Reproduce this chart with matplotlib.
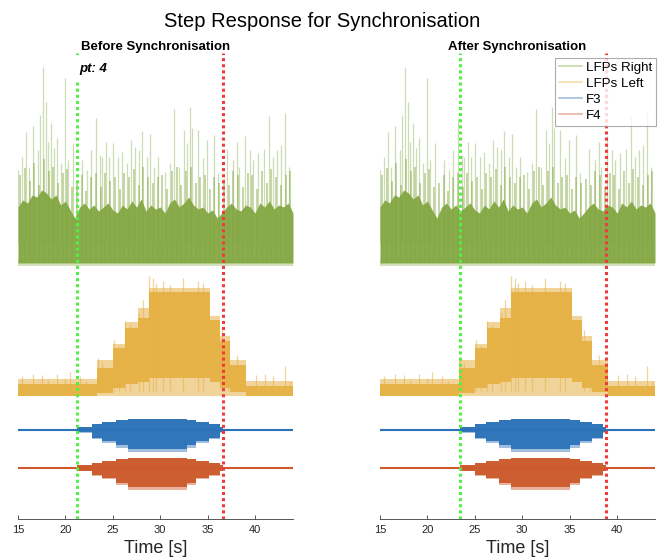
import numpy as np
import matplotlib.pyplot as plt

plt.rcParams['font.family'] = ['Liberation Sans', 'DejaVu Sans']

# ---- data (amplitudes are relative to each trace's baseline) ----
# LFPs Right: dense core top, sampled every 0.5 s from 15 to 44 s
green_core = [56, 63, 60, 68, 66, 73, 70, 64, 68, 58, 62, 53, 45, 56, 60, 54, 58, 52, 56, 60,
              53, 50, 58, 54, 62, 56, 64, 52, 58, 54, 56, 50, 60, 64, 56, 60, 66, 58, 54, 56,
              50, 53, 45, 50, 56, 60, 54, 52, 58, 56, 50, 60, 56, 62, 54, 58, 56, 60, 50]
# LFPs Right: lighter texture above the core, same sampling
green_haze = [88, 95, 82, 100, 78, 104, 92, 96, 80, 90, 94, 76, 80, 88, 72, 86, 90, 76, 90, 82,
              86, 74, 90, 86, 94, 78, 96, 86, 80, 86, 88, 74, 92, 96, 78, 92, 96, 80, 86, 88,
              74, 86, 80, 84, 78, 92, 88, 76, 90, 88, 74, 92, 80, 94, 86, 78, 88, 92, 74]
# LFPs Right: individual spikes (time [s], height)
green_spike_t = [15.03, 15.4, 15.84, 16.16, 16.6, 17.08, 17.32, 17.67, 17.92, 18.2, 18.48, 18.83,
                 19.15, 19.54, 19.96, 20.24, 20.83, 21.72, 22.25, 22.7, 23.2, 23.65, 23.9, 24.25,
                 24.63, 25.05, 25.5, 26.0, 26.47, 26.92, 27.34, 27.76, 28.1, 28.58, 28.92, 29.38,
                 29.8, 30.5, 31.03, 31.5, 32.0, 32.55, 32.86, 33.14, 33.38, 34.0, 34.48, 34.9,
                 35.7, 36.13, 37.08, 37.65, 38.07, 38.35, 38.98, 39.47, 39.83, 40.28, 40.98,
                 41.48, 41.87, 42.29, 42.71, 43.16, 43.62, 43.97]
green_spike_h = [93, 106, 131, 96, 137, 113, 148, 196, 161, 121, 140, 115,
                 125, 100, 185, 103, 120, 103, 93, 113, 145, 108, 106, 121,
                 106, 120, 106, 111, 100, 123, 116, 113, 132, 106, 129, 96,
                 106, 91, 100, 154, 96, 133, 120, 156, 135, 133, 105, 123,
                 128, 90, 114, 103, 121, 96, 127, 113, 103, 110, 114,
                 147, 106, 113, 118, 150, 96, 78]

# LFPs Left: step envelope of the response
yellow_edges = [15.0, 23.3, 25.05, 26.3, 27.7, 28.85, 35.25, 36.3, 37.4, 39.0, 44.0]
yellow_dense_top = [12, 28, 48, 68, 78, 104, 76, 55, 31, 10]
yellow_light_top = [17, 36, 52, 74, 88, 108, 80, 60, 36, 15]
yellow_dense_bot = [0, 3, 8, 12, 14, 18, 14, 8, 4, 0]
yellow_spike_t = [15.4, 16.6, 17.5, 18.2, 19.1, 19.96, 20.5, 21.5, 22.2, 23.47, 23.9, 25.16,
                  25.65, 26.29, 26.8, 27.76, 28.2, 28.85, 29.28, 29.6, 30.33, 31.03, 32.44,
                  34.02, 34.55, 36.48, 37.18, 38.13, 40.1, 41.05, 41.9, 43.2, 43.7]
yellow_spike_h = [20, 22, 21, 16, 22, 18, 24, 20, 15, 38, 33, 56,
                  50, 75, 71, 83, 96, 120, 118, 113, 115, 111, 118,
                  115, 113, 66, 56, 41, 21, 22, 20, 30, 15]

# F3 / F4 stimulation: step envelope relative to the onset
stim_onset_before = 21.2
stim_onset_after = 23.45
stim_steps = [0.0, 1.6, 2.7, 4.1, 5.4, 11.6, 12.6, 13.9, 15.1, 15.4]
f3_up = [3.0, 5.7, 7.7, 9.7, 10.7, 9.7, 7.7, 5.7, 3.0]
f3_down = [2.7, 9.3, 12.7, 17.7, 22.3, 17.7, 12.7, 9.3, 2.7]
f4_up = [2.7, 5.3, 6.7, 8.7, 9.7, 8.7, 6.7, 5.3, 2.7]
f4_down = [3.0, 8.0, 11.3, 17.3, 22.3, 17.3, 11.3, 8.0, 3.0]

# markers (s)
marker_green = [21.2, 23.45]
marker_red = [36.6, 38.84]

c_green = '#84a843'
c_yellow = '#e6b245'
c_blue = '#2c72b8'
c_orange = '#cc5a2c'

off_green, off_yellow, off_blue, off_orange = 256, 123, 89, 51

fig = plt.figure(figsize=(6.61, 5.59), dpi=100)
fig.suptitle('Step Response for Synchronisation', fontsize=14.5, x=0.487, y=0.978)

ax_l = fig.add_axes([18 / 661, 40 / 559, 275 / 661, 466 / 559])
ax_r = fig.add_axes([380 / 661, 40 / 559, 275 / 661, 466 / 559])


def step_fill(ax, edges, lo, hi, color, alpha):
    lo = list(lo) + [lo[-1]]
    hi = list(hi) + [hi[-1]]
    ax.fill_between(edges, lo, hi, step='post', color=color, alpha=alpha, lw=0)


def draw(ax, onset, g_mark, r_mark, title):
    tg = np.linspace(15, 44, len(green_core))
    # LFPs Right
    ax.fill_between(tg, off_green - 3, off_green + 4, color=c_green, alpha=0.35, lw=0)
    ax.vlines(tg + 0.22, off_green, off_green + np.array(green_haze), color=c_green, alpha=0.5, lw=1.3)
    ax.fill_between(tg, off_green, off_green + np.array(green_core), color=c_green, alpha=0.95, lw=0)
    ax.vlines(green_spike_t, off_green + 20, off_green + np.array(green_spike_h), color=c_green,
              alpha=0.4, lw=0.9)
    # LFPs Left
    ye = np.array(yellow_edges)
    step_fill(ax, ye, [off_yellow] * len(yellow_light_top), off_yellow + np.array(yellow_light_top),
              c_yellow, 0.55)
    step_fill(ax, ye, off_yellow + np.array(yellow_dense_bot), off_yellow + np.array(yellow_dense_top),
              c_yellow, 0.95)
    ax.vlines(yellow_spike_t, off_yellow + 5, off_yellow + np.array(yellow_spike_h), color=c_yellow,
              alpha=0.55, lw=0.9)
    # F3 / F4
    se = onset + np.array(stim_steps)
    for off, up, dn, col in [(off_blue, f3_up, f3_down, c_blue), (off_orange, f4_up, f4_down, c_orange)]:
        ax.plot([15, 44], [off, off], color=col, lw=1.5, solid_capstyle='butt')
        step_fill(ax, se, off - np.array(dn), off + np.array(up), col, 0.45)
        step_fill(ax, se, off - np.array(dn) * 0.85, off + np.array(up), col, 0.95)
    # markers
    ax.axvline(g_mark, color='#55ee44', ls=(0, (1, 1)), lw=2.2, zorder=5)
    ax.axvline(r_mark, color='#ee3b3b', ls=(0, (1, 1)), lw=2.2, zorder=5)

    ax.set_xlim(15, 44)
    ax.set_ylim(0, 466)
    ax.set_xticks([15, 20, 25, 30, 35, 40])
    ax.set_yticks([])
    for s in ['left', 'right', 'top']:
        ax.spines[s].set_visible(False)
    ax.spines['bottom'].set_color('#555555')
    ax.spines['bottom'].set_linewidth(0.7)
    ax.tick_params(axis='x', direction='in', length=3, width=0.7, colors='#555555',
                   labelsize=8, labelcolor='#262626', pad=4)
    ax.set_xlabel('Time [s]', fontsize=13, color='#262626', labelpad=4)
    ax.set_title(title, fontsize=9.5, fontweight='bold', pad=2)
    ax.patch.set_alpha(0)


draw(ax_l, stim_onset_before, marker_green[0], marker_red[0], 'Before Synchronisation')
draw(ax_r, stim_onset_after, marker_green[1], marker_red[1], 'After Synchronisation')

ax_l.text(21.45, 450, 'pt: 4', fontsize=9.5, fontweight='bold', fontstyle='italic', va='center',
          ha='left', zorder=10, bbox=dict(facecolor='white', edgecolor='none', pad=3.5))

handles = [plt.Line2D([], [], color=c, alpha=0.45, lw=1.2) for c in [c_green, c_yellow, c_blue, c_orange]]
leg = ax_r.legend(handles, ['LFPs Right', 'LFPs Left', 'F3', 'F4'], loc='upper right',
                  bbox_to_anchor=(1.005, 0.99), fontsize=9.6, frameon=True, fancybox=False,
                  borderaxespad=0.0, handlelength=1.7, handletextpad=0.3, labelspacing=0.27,
                  borderpad=0.3)
leg.get_frame().set_edgecolor('#999999')
leg.get_frame().set_linewidth(0.8)
leg.set_zorder(20)

fig.savefig('out.png', dpi=100)
